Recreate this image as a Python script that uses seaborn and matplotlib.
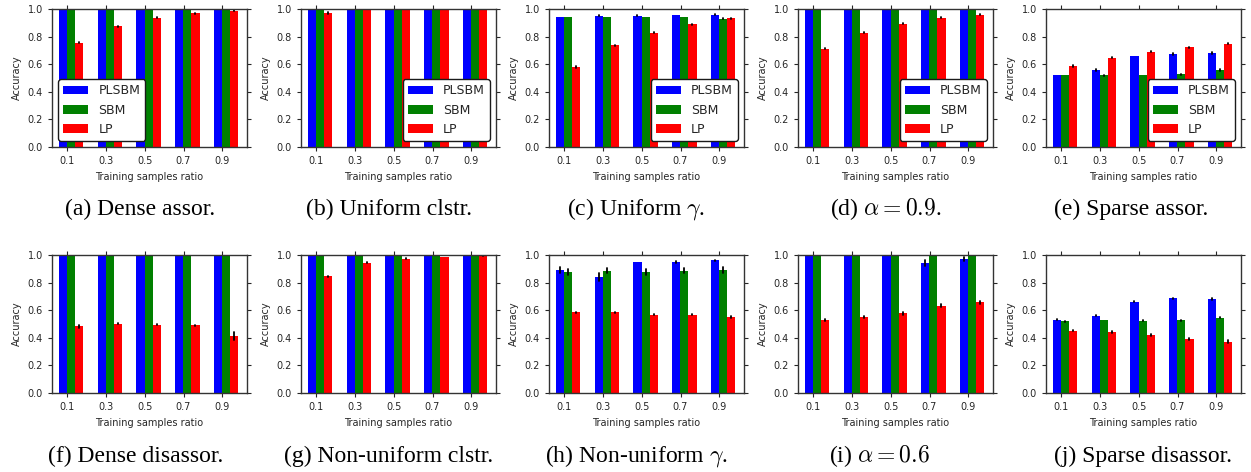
import numpy as np
import pandas as pd
import matplotlib
matplotlib.use("Agg")
import matplotlib.pyplot as plt
import seaborn as sns

ratios = ["0.1", "0.3", "0.5", "0.7", "0.9"]
methods = ["PLSBM", "SBM", "LP"]
colors = ["#0000ff", "#008000", "#ff0000"]

# mean accuracy per panel, rows = PLSBM, SBM, LP
dense_assor = [[1.0, 1.0, 1.0, 1.0, 1.0],
               [1.0, 1.0, 1.0, 1.0, 1.0],
               [0.757, 0.876, 0.937, 0.970, 0.988]]
dense_assor_err = [[0, 0, 0, 0.002, 0.002],
                   [0, 0, 0, 0.002, 0.002],
                   [0.005, 0.004, 0.004, 0.004, 0.002]]

uniform_clstr = [[1.0, 1.0, 1.0, 1.0, 1.0],
                 [1.0, 1.0, 1.0, 1.0, 1.0],
                 [0.971, 1.0, 1.0, 1.0, 1.0]]
uniform_clstr_err = [[0, 0, 0, 0, 0],
                     [0.002, 0, 0, 0, 0],
                     [0.005, 0, 0, 0, 0]]

uniform_gamma = [[0.942, 0.952, 0.952, 0.957, 0.957],
                 [0.942, 0.942, 0.942, 0.942, 0.930],
                 [0.580, 0.738, 0.828, 0.890, 0.932]]
uniform_gamma_err = [[0.003, 0.002, 0.002, 0.003, 0.004],
                     [0.002, 0.003, 0.003, 0.002, 0.003],
                     [0.005, 0.003, 0.003, 0.004, 0.004]]

alpha_09 = [[1.0, 1.0, 1.0, 1.0, 1.0],
            [1.0, 1.0, 1.0, 1.0, 1.0],
            [0.713, 0.828, 0.892, 0.937, 0.957]]
alpha_09_err = [[0, 0, 0, 0, 0.002],
                [0, 0, 0, 0, 0.002],
                [0.006, 0.005, 0.004, 0.004, 0.004]]

sparse_assor = [[0.522, 0.561, 0.660, 0.675, 0.682],
                [0.522, 0.520, 0.522, 0.527, 0.556],
                [0.587, 0.646, 0.689, 0.722, 0.748]]
sparse_assor_err = [[0.003, 0.007, 0.003, 0.008, 0.010],
                    [0.002, 0.002, 0.003, 0.004, 0.006],
                    [0.004, 0.004, 0.004, 0.004, 0.005]]

dense_disassor = [[1.0, 1.0, 1.0, 1.0, 1.0],
                  [1.0, 1.0, 1.0, 1.0, 1.0],
                  [0.482, 0.501, 0.496, 0.492, 0.414]]
dense_disassor_err = [[0, 0, 0.002, 0, 0.002],
                      [0, 0, 0.002, 0, 0.002],
                      [0.008, 0.004, 0.003, 0.004, 0.030]]

nonuniform_clstr = [[1.0, 1.0, 1.0, 1.0, 1.0],
                    [1.0, 1.0, 1.0, 1.0, 1.0],
                    [0.846, 0.945, 0.973, 0.986, 0.996]]
nonuniform_clstr_err = [[0, 0, 0, 0, 0],
                        [0, 0, 0, 0, 0],
                        [0.005, 0.004, 0.003, 0.003, 0.003]]

nonuniform_gamma = [[0.892, 0.843, 0.949, 0.949, 0.961],
                    [0.880, 0.887, 0.880, 0.887, 0.892],
                    [0.586, 0.586, 0.567, 0.567, 0.549]]
nonuniform_gamma_err = [[0.020, 0.030, 0.003, 0.004, 0.003],
                        [0.022, 0.020, 0.022, 0.020, 0.020],
                        [0.004, 0.004, 0.004, 0.005, 0.007]]

alpha_06 = [[1.0, 1.0, 1.0, 0.945, 0.972],
            [1.0, 1.0, 1.0, 1.0, 1.0],
            [0.530, 0.553, 0.578, 0.634, 0.658]]
alpha_06_err = [[0, 0, 0, 0.022, 0.016],
                [0, 0, 0, 0, 0],
                [0.005, 0.008, 0.010, 0.010, 0.012]]

sparse_disassor = [[0.530, 0.561, 0.663, 0.687, 0.680],
                   [0.520, 0.528, 0.525, 0.528, 0.545],
                   [0.451, 0.439, 0.422, 0.392, 0.372]]
sparse_disassor_err = [[0.004, 0.004, 0.003, 0.004, 0.007],
                       [0.003, 0.002, 0.003, 0.003, 0.005],
                       [0.005, 0.007, 0.008, 0.009, 0.010]]

panels = [
    (dense_assor, dense_assor_err, "(a) Dense assor.", "lower left"),
    (uniform_clstr, uniform_clstr_err, "(b) Uniform clstr.", "lower right"),
    (uniform_gamma, uniform_gamma_err, "(c) Uniform $\\gamma$.", "lower right"),
    (alpha_09, alpha_09_err, "(d) $\\alpha = 0.9$.", "lower right"),
    (sparse_assor, sparse_assor_err, "(e) Sparse assor.", "lower right"),
    (dense_disassor, dense_disassor_err, "(f) Dense disassor.", None),
    (nonuniform_clstr, nonuniform_clstr_err, "(g) Non-uniform clstr.", None),
    (nonuniform_gamma, nonuniform_gamma_err, "(h) Non-uniform $\\gamma$.", None),
    (alpha_06, alpha_06_err, "(i) $\\alpha = 0.6$", None),
    (sparse_disassor, sparse_disassor_err, "(j) Sparse disassor.", None),
]


def to_long(means, errs):
    # two rows per bar so a min-max interval gives mean +/- err
    rows = []
    for m_name, m_vals, e_vals in zip(methods, means, errs):
        for r, v, e in zip(ratios, m_vals, e_vals):
            rows.append({"ratio": r, "method": m_name, "acc": v - e})
            rows.append({"ratio": r, "method": m_name, "acc": v + e})
    return pd.DataFrame(rows)


sns.set_style("ticks", {"axes.edgecolor": "0.2", "xtick.color": "0.15",
                        "ytick.color": "0.15", "text.color": "0.15"})
plt.rcParams["font.family"] = ["DejaVu Sans"]
plt.rcParams["mathtext.fontset"] = "cm"

W, H = 1251, 472
fig = plt.figure(figsize=(W / 100, H / 100), dpi=100)

lefts = [52, 301, 549, 798, 1046]
ax_w = 195
row_tops = [9, 255]
ax_h = 138
cap_x = [140, 389, 636, 886, 1131, 136, 389, 636, 880, 1143]
cap_y = [209, 456]

for i, (means, errs, caption, leg_loc) in enumerate(panels):
    row, col = divmod(i, 5)
    ax = fig.add_axes([lefts[col] / W, 1 - (row_tops[row] + ax_h) / H,
                       ax_w / W, ax_h / H])
    df = to_long(means, errs)
    sns.barplot(data=df, x="ratio", y="acc", hue="method", order=ratios,
                hue_order=methods, palette=colors, saturation=1, width=0.62,
                estimator="mean", errorbar=("pi", 100), linewidth=0,
                err_kws={"color": "black", "linewidth": 1.3}, capsize=0,
                legend=leg_loc is not None, ax=ax)
    ax.set_ylim(0, 1.0)
    ax.set_xlim(-0.48, 4.53)
    ax.set_yticks(np.arange(0, 1.01, 0.2))
    ax.set_yticklabels(["%.1f" % t for t in np.arange(0, 1.01, 0.2)])
    ax.set_xticks(np.arange(len(ratios)) - 0.1)
    ax.set_xticklabels(ratios)
    ax.tick_params(labelsize=7, length=3, width=0.8, top=True, right=True,
                   direction="out")
    ax.set_xlabel("Training samples ratio", fontsize=7)
    ax.set_ylabel("Accuracy", fontsize=7)
    for s in ax.spines.values():
        s.set_linewidth(1.0)
    if leg_loc is not None:
        ax.legend(loc=leg_loc, fontsize=9, title=None, frameon=True,
                  framealpha=1, edgecolor="0.1", fancybox=True)
    fig.text(cap_x[i] / W, 1 - cap_y[row] / H, caption, ha="center",
             va="center", fontsize=17, family=["Liberation Serif"],
             color="black")

fig.savefig("out.png", dpi=100)
